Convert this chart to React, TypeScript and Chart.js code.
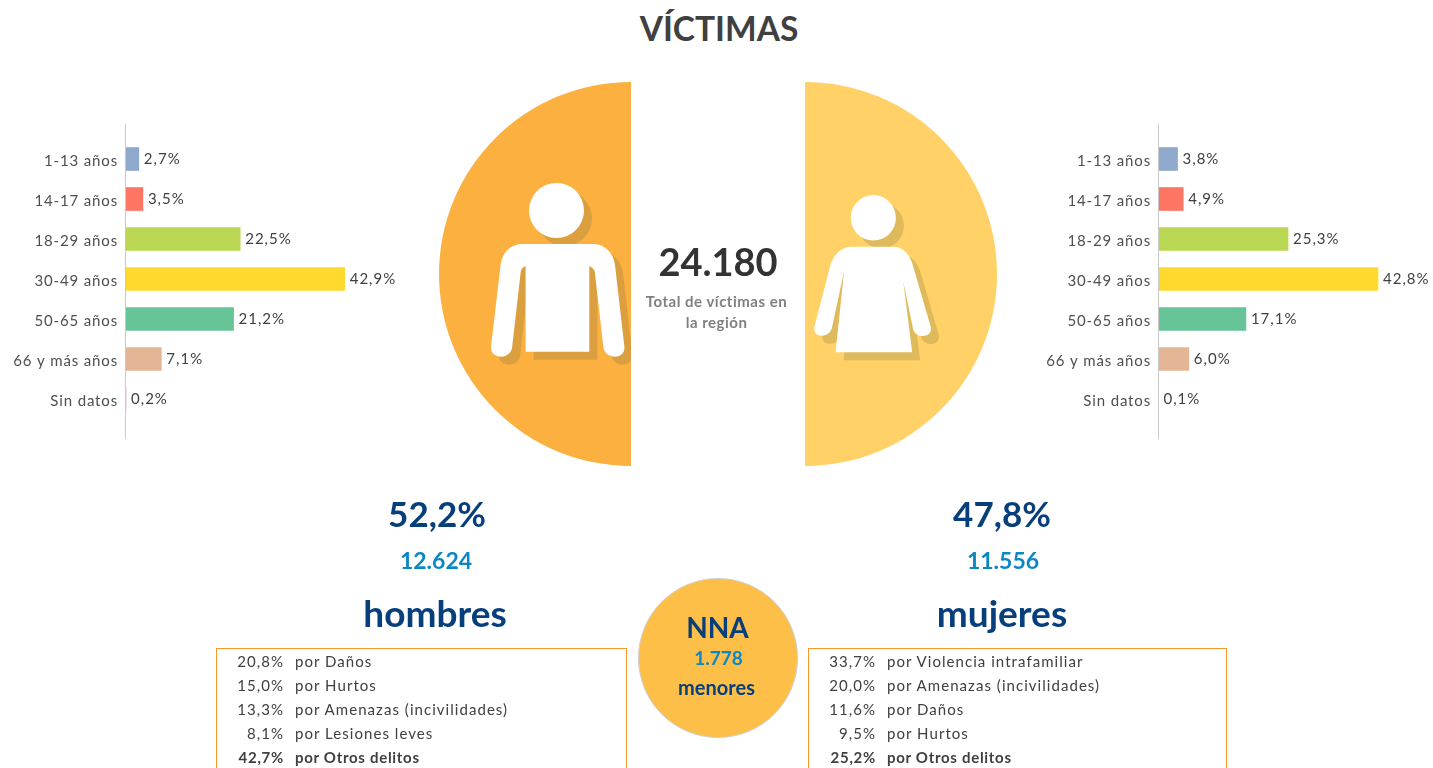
import React, { useEffect, useRef } from "react";
import { Chart, registerables } from "chart.js";

Chart.register(...registerables);

const ageLabels = ["1-13 años", "14-17 años", "18-29 años", "30-49 años", "50-65 años", "66 y más años", "Sin datos"];
const menShares = [2.7, 3.5, 22.5, 42.9, 21.2, 7.1, 0.2];
const womenShares = [3.8, 4.9, 25.3, 42.8, 17.1, 6.0, 0.1];
const barColors = ["#8EA9CB", "#FF7563", "#BBD855", "#FFD92E", "#66C497", "#E5B695", "#E7A5D8"];
const menCrimePct = ["20,8%", "15,0%", "13,3%", "8,1%", "42,7%"];
const menCrimes = ["por Daños", "por Hurtos", "por Amenazas (incivilidades)", "por Lesiones leves", "por Otros delitos"];
const womenCrimePct = ["33,7%", "20,0%", "11,6%", "9,5%", "25,2%"];
const womenCrimes = ["por Violencia intrafamiliar", "por Amenazas (incivilidades)", "por Daños", "por Hurtos", "por Otros delitos"];
const menTotal = [12624];
const womenTotal = [11556];

const FONT = "Lato, 'Noto Sans', sans-serif";
const NAVY = "#073F7C";
const BLUE = "#0D86C4";

const MALE_BODY =
  "M522.6 244 L593 244 C605 244 614 253 615.2 266.7 L624.4 346.7 C625.5 360 604.5 360 603.3 346.7 L594.8 272 Q594 268 589.3 266 L589.3 351.7 L525.6 351.7 L525.6 266 Q521 268 520.7 272 L512.2 346.7 C511 360 490 360 491 346.7 L500.4 266.7 C501.5 253 510 244 522.6 244 Z";
const FEMALE_BODY =
  "M852.2 246.7 L893 246.7 C903 246.7 910 254 913.3 266.7 L930.7 326.7 C933 338 917 339 913.3 330 L903.3 281.7 L912.2 352.3 L835.6 352.3 L844 271.7 L831.9 328 C829 339 812 338 814.4 326.7 L830 266.7 C833 254 842 246.7 852.2 246.7 Z";

function AgeBars({ values, left, max }: { values: number[]; left: number; max: number }) {
  const ref = useRef<HTMLCanvasElement>(null);
  useEffect(() => {
    const axisAndLabels = {
      id: "axisAndLabels",
      beforeDraw(chart: any) {
        chart.ctx.letterSpacing = "0.85px";
      },
      afterDatasetsDraw(chart: any) {
        const { ctx, scales } = chart;
        const x0 = scales.x.getPixelForValue(0);
        ctx.save();
        ctx.strokeStyle = "#C9C9C9";
        ctx.lineWidth = 1;
        ctx.beginPath();
        ctx.moveTo(Math.round(x0) + 0.5, 14);
        ctx.lineTo(Math.round(x0) + 0.5, 329);
        ctx.stroke();
        ctx.font = `15px ${FONT}`;
        ctx.letterSpacing = "1px";
        ctx.fillStyle = "#404040";
        ctx.textBaseline = "middle";
        values.forEach((v, i) => {
          ctx.fillText(v.toFixed(1).replace(".", ",") + "%", scales.x.getPixelForValue(v) + 5, scales.y.getPixelForValue(i) + 0.5);
        });
        ctx.restore();
      },
    };
    const chart = new Chart(ref.current!, {
      type: "bar",
      data: {
        labels: ageLabels,
        datasets: [{ data: values, backgroundColor: barColors, barThickness: 23, borderWidth: 0 }],
      },
      options: {
        indexAxis: "y",
        animation: false,
        responsive: false,
        layout: { padding: { top: 29, bottom: 31, left: 0, right: 0 } },
        plugins: { legend: { display: false }, tooltip: { enabled: false } },
        scales: {
          x: { display: false, min: 0, max },
          y: {
            afterFit: (s: any) => {
              s.width = 125;
            },
            grid: { display: false, drawTicks: false },
            border: { display: false },
            ticks: { padding: 7, labelOffset: 2.5, color: "#4F4F4F", font: { family: FONT, size: 15 } },
          },
        },
      },
      plugins: [axisAndLabels],
    } as any);
    return () => chart.destroy();
  }, []);
  return <canvas ref={ref} width={400} height={340} style={{ position: "absolute", left, top: 110 }} />;
}

function HalfDisc({ values, color, left, rotation }: { values: number[]; color: string; left: number; rotation: number }) {
  const ref = useRef<HTMLCanvasElement>(null);
  useEffect(() => {
    const chart = new Chart(ref.current!, {
      type: "pie",
      data: { datasets: [{ data: values, backgroundColor: [color], borderWidth: 0 }] },
      options: {
        animation: false,
        responsive: false,
        rotation,
        circumference: 180,
        plugins: { legend: { display: false }, tooltip: { enabled: false } },
      },
    } as any);
    return () => chart.destroy();
  }, []);
  return <canvas ref={ref} width={192} height={384} style={{ position: "absolute", left, top: 82 }} />;
}

function Txt({ cx, y, size, color, bold = true, children, spacing = 0 }: any) {
  return (
    <div
      style={{
        position: "absolute",
        left: cx - 200,
        width: 400,
        top: y - 30,
        height: 60,
        lineHeight: "60px",
        textAlign: "center",
        fontFamily: FONT,
        fontSize: size,
        fontWeight: bold ? 700 : 400,
        letterSpacing: spacing,
        color,
        whiteSpace: "nowrap",
      }}
    >
      {children}
    </div>
  );
}

function CrimeBox({ left, width, pct, names }: { left: number; width: number; pct: string[]; names: string[] }) {
  return (
    <div
      style={{
        position: "absolute",
        left,
        top: 648,
        width: width - 2,
        height: 130,
        border: "1px solid #F7962B",
        fontFamily: FONT,
        fontSize: 15,
        color: "#404040",
      }}
    >
      {pct.map((p, i) => {
        const last = i === pct.length - 1;
        return (
          <div
            key={i}
            style={{
              position: "absolute",
              top: i * 24 - 0.5,
              height: 24,
              lineHeight: "24px",
              left: 0,
              width: "100%",
              fontWeight: last ? 700 : 400,
              letterSpacing: last ? 0.7 : 1.05,
              whiteSpace: "nowrap",
            }}
          >
            <span style={{ position: "absolute", right: width - 69, top: 0 }}>{p}</span>
            <span style={{ position: "absolute", left: 78, top: 0 }}>{names[i]}</span>
          </div>
        );
      })}
    </div>
  );
}

export default function App() {
  return (
    <div style={{ position: "absolute", left: 0, top: 0, width: 1433, height: 768, overflow: "hidden", background: "#fff" }}>
      <Txt cx={719} y={28} size={33.5} color="#404040">VÍCTIMAS</Txt>

      <AgeBars values={menShares} left={0} max={53.7} />
      <AgeBars values={womenShares} left={1033} max={53.5} />

      <HalfDisc values={menTotal} color="#FBB040" left={439} rotation={180} />
      <HalfDisc values={womenTotal} color="#FFD166" left={805} rotation={0} />

      <svg width={1433} height={768} style={{ position: "absolute", left: 0, top: 0 }}>
        <defs>
          <clipPath id="clipMen"><rect x={439} y={82} width={192} height={384} /></clipPath>
          <clipPath id="clipWomen"><rect x={805} y={82} width={192} height={384} /></clipPath>
        </defs>
        <g clipPath="url(#clipMen)">
          <g transform="translate(8 8)" fill="#DB9F3F">
            <circle cx={556.5} cy={210.5} r={27.5} />
            <path d={MALE_BODY} />
          </g>
        </g>
        <g clipPath="url(#clipWomen)">
          <g transform="translate(8 8)" fill="#DFBA5C">
            <ellipse cx={873.3} cy={217.8} rx={22.6} ry={22.8} />
            <path d={FEMALE_BODY} />
          </g>
        </g>
        <g fill="#fff">
          <circle cx={556.5} cy={210.5} r={27.5} />
          <path d={MALE_BODY} />
          <ellipse cx={873.3} cy={217.8} rx={22.6} ry={22.8} />
          <path d={FEMALE_BODY} />
        </g>
      </svg>

      <Txt cx={718} y={261} size={38} color="#333333">24.180</Txt>
      <Txt cx={716.5} y={301} size={15} spacing={0.5} color="#808080">Total de víctimas en</Txt>
      <Txt cx={716.5} y={322} size={15} spacing={0.5} color="#808080">la región</Txt>

      <Txt cx={437} y={513} size={35} color={NAVY}>52,2%</Txt>
      <Txt cx={436} y={560} size={23} color={BLUE}>12.624</Txt>
      <Txt cx={435} y={613} size={37} color={NAVY}>hombres</Txt>
      <Txt cx={1002} y={513} size={35} color={NAVY}>47,8%</Txt>
      <Txt cx={1003} y={560} size={23} color={BLUE}>11.556</Txt>
      <Txt cx={1002} y={613} size={37} color={NAVY}>mujeres</Txt>

      <div
        style={{
          position: "absolute",
          left: 638,
          top: 578,
          width: 158,
          height: 158,
          borderRadius: "50%",
          background: "#FDBF47",
          border: "1px solid #CFCFCF",
        }}
      />
      <Txt cx={717.5} y={627} size={28} color={NAVY}>NNA</Txt>
      <Txt cx={718.5} y={658} size={19} color={BLUE}>1.778</Txt>
      <Txt cx={716.5} y={687} size={20} color={NAVY}>menores</Txt>

      <CrimeBox left={216} width={411} pct={menCrimePct} names={menCrimes} />
      <CrimeBox left={808} width={419} pct={womenCrimePct} names={womenCrimes} />
    </div>
  );
}
